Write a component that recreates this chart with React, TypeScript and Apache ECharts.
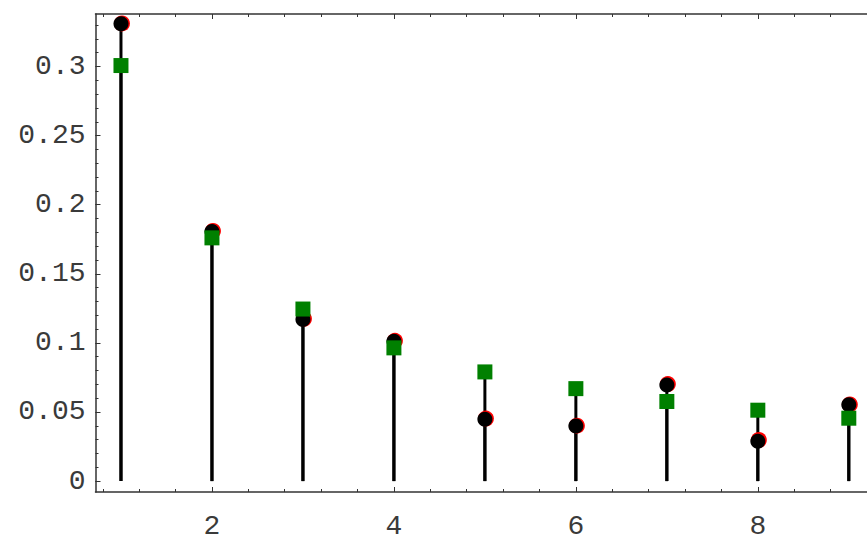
import React, { useEffect, useRef } from "react";
import * as echarts from "echarts";

const categories = [1, 2, 3, 4, 5, 6, 7, 8, 9];
const blackValues = [0.331, 0.1806, 0.117, 0.1012, 0.0448, 0.0398, 0.0696, 0.0288, 0.0552];
const redValues = [0.3312, 0.181, 0.1175, 0.1015, 0.0452, 0.0401, 0.0702, 0.0297, 0.0555];
const greenValues = [0.3007, 0.176, 0.1245, 0.0964, 0.079, 0.0669, 0.0576, 0.0513, 0.0455];

const yMajorTicks = [0, 0.05, 0.1, 0.15, 0.2, 0.25, 0.3];
const yMinorTicks = [0, 0.01, 0.02, 0.03, 0.04, 0.05, 0.06, 0.07, 0.08, 0.09, 0.1, 0.11, 0.12, 0.13, 0.14, 0.15, 0.16, 0.17, 0.18, 0.19, 0.2, 0.21, 0.22, 0.23, 0.24, 0.25, 0.26, 0.27, 0.28, 0.29, 0.3, 0.31, 0.32, 0.33];
const xMajorTicks = [2, 4, 6, 8];
const xMinorTicks = [0.8, 1.2, 1.6, 2.0, 2.4, 2.8, 3.2, 3.6, 4.0, 4.4, 4.8, 5.2, 5.6, 6.0, 6.4, 6.8, 7.2, 7.6, 8.0, 8.4, 8.8];

const X_MIN = 0.72;
const X_MAX = 9.2;
const Y_MIN = -0.0079;
const Y_MAX = 0.338;

const FRAME = "#333";
const FONT = "'Liberation Mono', 'DejaVu Sans Mono', monospace";

export default function App() {
  const ref = useRef<HTMLDivElement>(null);
  useEffect(() => {
    document.body.style.margin = "0";
    const chart = echarts.init(ref.current!, null, { renderer: "svg" });
    const yLabel = {
      show: true,
      customValues: yMajorTicks,
      fontFamily: FONT,
      fontSize: 28,
      color: "#3a3a3a",
      margin: 10,
      formatter: (v: number) => String(parseFloat(v.toFixed(2))),
    };
    const xAxisBase = (position: string, labels: boolean, major: boolean) => ({
      type: "value",
      position,
      min: X_MIN,
      max: X_MAX,
      axisLine: { show: major, onZero: false, lineStyle: { color: FRAME, width: 1.5 } },
      splitLine: { show: false },
      axisTick: {
        show: true,
        inside: true,
        length: major ? 5 : 3,
        customValues: major ? xMajorTicks : xMinorTicks,
        lineStyle: { color: FRAME, width: 1 },
      },
      axisLabel: labels
        ? { show: true, customValues: xMajorTicks, fontFamily: FONT, fontSize: 28, color: "#3a3a3a", margin: 20 }
        : { show: false },
    });
    const yAxisBase = (labels: boolean, major: boolean) => ({
      type: "value",
      position: "left",
      min: Y_MIN,
      max: Y_MAX,
      axisLine: { show: major, onZero: false, lineStyle: { color: FRAME, width: 1.5 } },
      splitLine: { show: false },
      axisTick: {
        show: true,
        inside: true,
        length: major ? 5 : 3,
        customValues: major ? yMajorTicks : yMinorTicks,
        lineStyle: { color: FRAME, width: 1 },
      },
      axisLabel: labels ? yLabel : { show: false },
    });
    const stem = (vals: number[]) => ({
      type: "custom",
      xAxisIndex: 0,
      yAxisIndex: 0,
      data: categories.map((c, i) => [c, vals[i]]),
      renderItem: (params: any, api: any) => {
        const p0 = api.coord([api.value(0), 0]);
        const p1 = api.coord([api.value(0), api.value(1)]);
        return {
          type: "line",
          shape: { x1: p0[0], y1: p0[1], x2: p1[0], y2: p1[1] },
          style: { stroke: "#000", lineWidth: 3 },
        };
      },
      silent: true,
      z: 1,
    });
    chart.setOption({
      animation: false,
      backgroundColor: "#fff",
      grid: { left: 95.5, right: 0, top: 14, bottom: 45, containLabel: false },
      xAxis: [
        xAxisBase("bottom", true, true),
        xAxisBase("bottom", false, false),
        xAxisBase("top", false, true),
        xAxisBase("top", false, false),
      ],
      yAxis: [yAxisBase(true, true), yAxisBase(false, false)],
      series: [
        stem(blackValues),
        stem(greenValues),
        {
          type: "scatter",
          data: categories.map((c, i) => [c, redValues[i]]),
          symbol: "circle",
          symbolSize: 16,
          symbolOffset: [1, 0],
          itemStyle: { color: "#ff0000", opacity: 1 },
          z: 2,
        },
        {
          type: "scatter",
          data: categories.map((c, i) => [c, blackValues[i]]),
          symbol: "circle",
          symbolSize: 15,
          itemStyle: { color: "#000", opacity: 1 },
          z: 3,
        },
        {
          type: "scatter",
          data: categories.map((c, i) => [c, greenValues[i]]),
          symbol: "rect",
          symbolSize: 15,
          itemStyle: { color: "#008000", opacity: 1 },
          z: 4,
        },
      ],
    });
    return () => chart.dispose();
  }, []);
  return <div ref={ref} style={{ position: "absolute", left: 0, top: 0, width: 867, height: 540 }} />;
}
